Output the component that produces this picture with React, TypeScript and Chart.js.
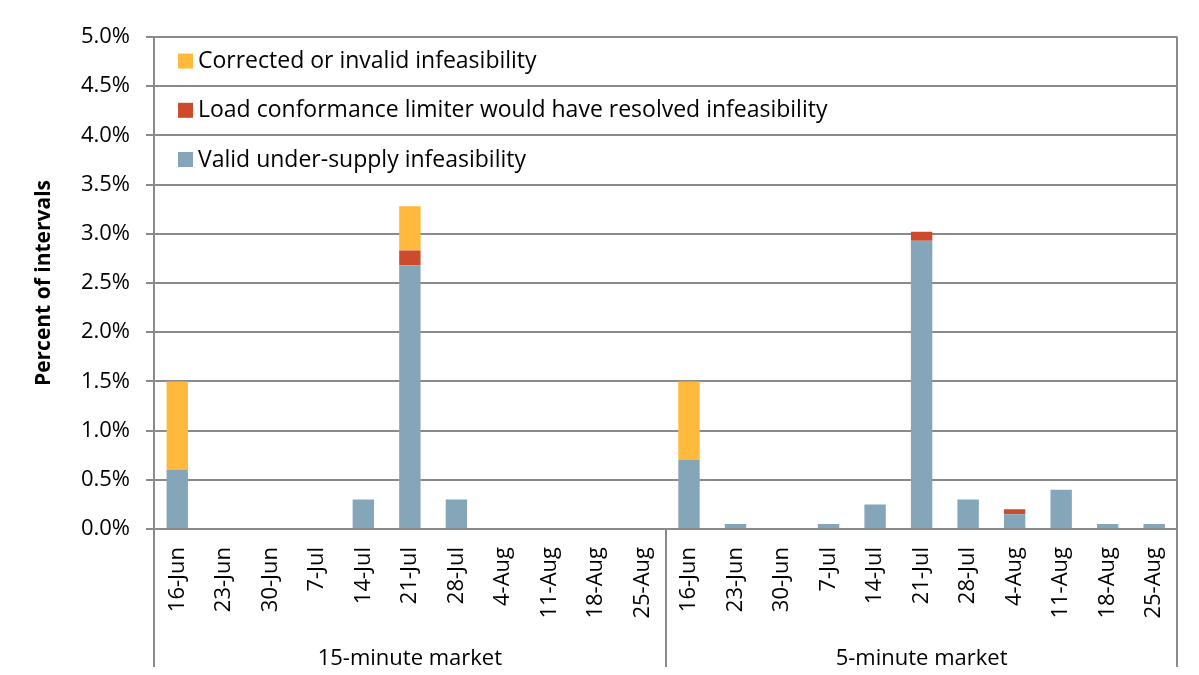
import React, { useEffect, useRef } from 'react';
import { Chart, registerables } from 'chart.js';

Chart.register(...registerables);

const dates = ['16-Jun', '23-Jun', '30-Jun', '7-Jul', '14-Jul', '21-Jul', '28-Jul', '4-Aug', '11-Aug', '18-Aug', '25-Aug'];
const groups = ['15-minute market', '5-minute market'];
const categories = [...dates, ...dates];

const validUnderSupply = [0.6, 0, 0, 0, 0.3, 2.68, 0.3, 0, 0, 0, 0, 0.7, 0.05, 0, 0.05, 0.25, 2.93, 0.3, 0.15, 0.4, 0.05, 0.05];
const loadConformance = [0, 0, 0, 0, 0, 0.15, 0, 0, 0, 0, 0, 0, 0, 0, 0, 0, 0.09, 0, 0.05, 0, 0, 0];
const correctedInvalid = [0.9, 0, 0, 0, 0, 0.45, 0, 0, 0, 0, 0, 0.8, 0, 0, 0, 0, 0, 0, 0, 0, 0, 0];

const seriesLabels = [
  'Valid under-supply infeasibility',
  'Load conformance limiter would have resolved infeasibility',
  'Corrected or invalid infeasibility',
];
const seriesColors = ['#85A6B9', '#CC4B2C', '#FFB93C'];

const FONT = '"Open Sans", "Noto Sans", sans-serif';
const FS = 22;
const GRID = '#8a8a8a';

const decorPlugin = {
  id: 'decor',
  afterDraw(chart: any) {
    const ctx = chart.ctx;
    const { left, right, top, bottom } = chart.chartArea;
    const xs = chart.scales.x;
    const ys = chart.scales.y;
    const H = chart.height;
    ctx.save();
    // outer frame
    ctx.strokeStyle = '#a6a6a6';
    ctx.lineWidth = 2;
    ctx.strokeRect(7, 5, chart.width + 10, H + 10);

    // separators
    ctx.strokeStyle = GRID;
    ctx.lineWidth = 2;
    const mid = (xs.getPixelForValue(dates.length - 1) + xs.getPixelForValue(dates.length)) / 2;
    const lines = [
      [left, top, H],
      [mid, bottom, H],
      [right, top, H],
    ];
    for (const [x, y0, y1] of lines) {
      ctx.beginPath();
      ctx.moveTo(Math.round(x), y0);
      ctx.lineTo(Math.round(x), y1);
      ctx.stroke();
    }

    // group labels
    ctx.fillStyle = '#000';
    ctx.font = `${FS}px ${FONT}`;
    ctx.textAlign = 'center';
    ctx.textBaseline = 'middle';
    ctx.fillText(groups[0], (left + mid) / 2, 659);
    ctx.fillText(groups[1], (mid + right) / 2, 659);

    // legend (reverse order, inside plot)
    const ds = chart.data.datasets;
    const yCenters = [4.75, 4.25, 3.75];
    ctx.textAlign = 'left';
    ctx.font = `23px ${FONT}`;
    for (let k = 0; k < ds.length; k++) {
      const d = ds[ds.length - 1 - k];
      const yc = ys.getPixelForValue(yCenters[k]);
      ctx.fillStyle = d.backgroundColor;
      ctx.fillRect(left + 24, yc - 8, 15, 15);
      ctx.fillStyle = '#000';
      ctx.fillText(d.label, left + 44, yc);
    }
    ctx.restore();
  },
};

export default function App() {
  const ref = useRef<HTMLCanvasElement | null>(null);
  useEffect(() => {
    if (!ref.current) return;
    const chart = new Chart(ref.current, {
      type: 'bar',
      data: {
        labels: categories,
        datasets: [
          { label: seriesLabels[0], data: validUnderSupply, backgroundColor: seriesColors[0] },
          { label: seriesLabels[1], data: loadConformance, backgroundColor: seriesColors[1] },
          { label: seriesLabels[2], data: correctedInvalid, backgroundColor: seriesColors[2] },
        ],
      },
      options: {
        animation: false,
        responsive: false,
        maintainAspectRatio: false,
        datasets: { bar: { categoryPercentage: 1, barPercentage: 0.46, borderWidth: 0 } },
        layout: { padding: { top: 37, right: 17, left: 0, bottom: 0 } },
        plugins: { legend: { display: false }, tooltip: { enabled: false } },
        scales: {
          x: {
            stacked: true,
            grid: { display: false, drawTicks: false },
            border: { display: false },
            ticks: {
              autoSkip: false,
              maxRotation: 90,
              minRotation: 90,
              padding: 18,
              color: '#000',
              font: { family: FONT, size: FS },
            },
            afterFit: (s: any) => {
              s.height = 146;
            },
          },
          y: {
            stacked: true,
            min: 0,
            max: 5,
            ticks: {
              stepSize: 0.5,
              padding: 16,
              color: '#000',
              font: { family: FONT, size: FS },
              callback: (v: any) => Number(v).toFixed(1) + '%',
            },
            grid: { color: GRID, lineWidth: 2, tickLength: 8 },
            border: { color: GRID, width: 2 },
            title: {
              display: true,
              text: 'Percent of intervals',
              color: '#000',
              font: { family: FONT, size: 21, weight: 'bold' },
              padding: { top: 31, bottom: 0 },
            },
            afterFit: (s: any) => {
              s.width = 154;
            },
          },
        },
      },
      plugins: [decorPlugin],
    });
    return () => chart.destroy();
  }, []);
  return (
    <div style={{ margin: '-8px', height: 675, overflow: 'hidden' }}>
      <canvas ref={ref} width={1199} height={675} style={{ display: 'block', width: 1199, height: 675 }} />
    </div>
  );
}
